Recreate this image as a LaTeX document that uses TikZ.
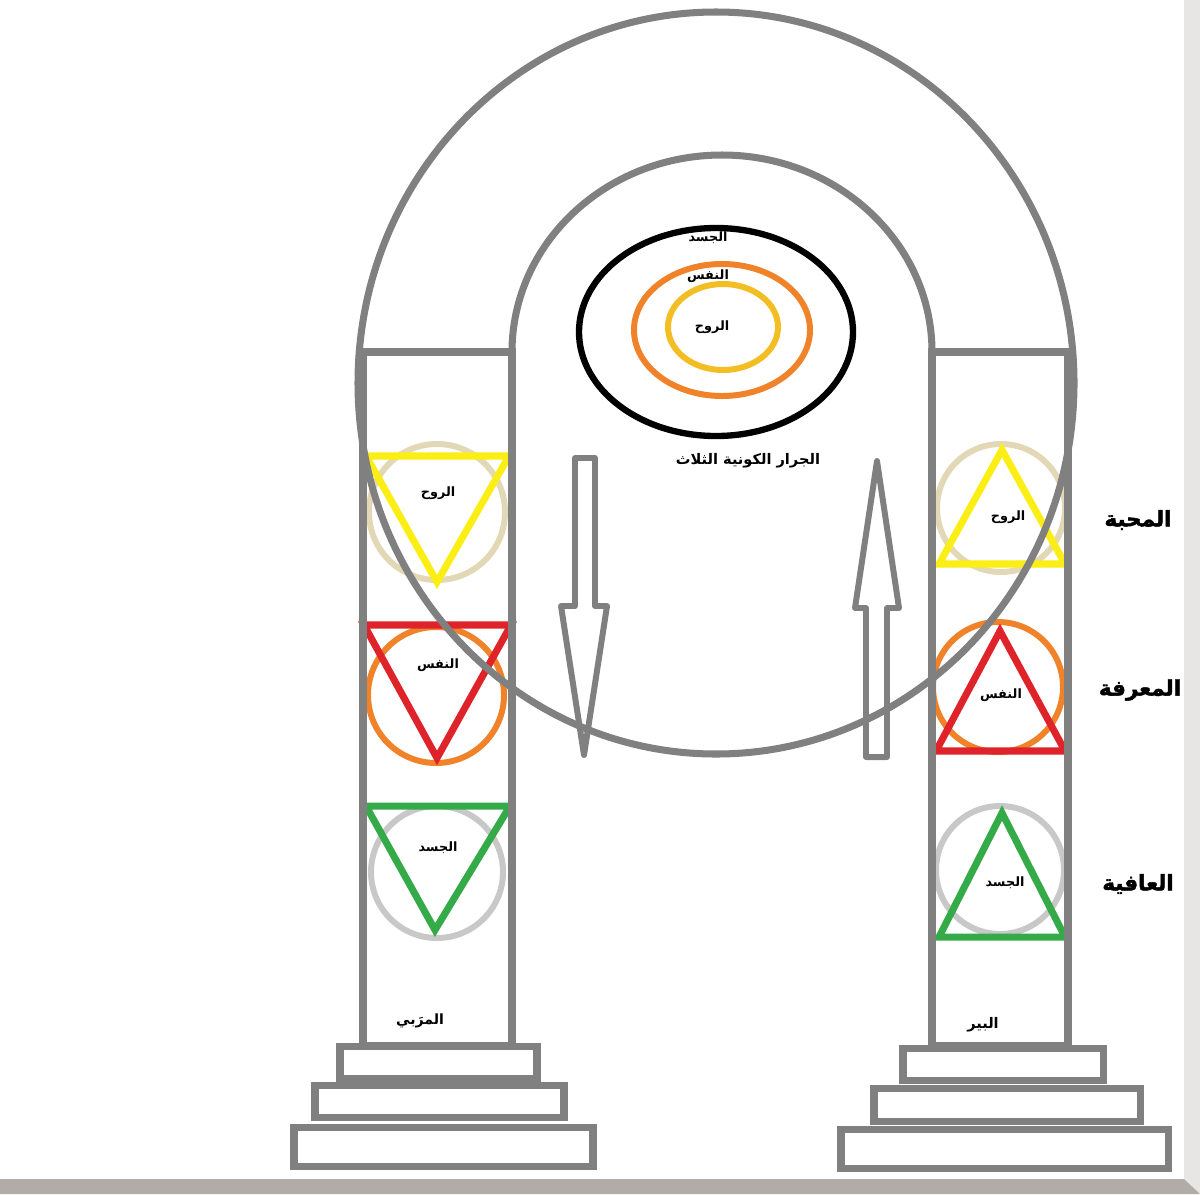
\documentclass[tikz,border=0pt]{standalone}
\usepackage{fontspec}
\newfontfamily\arabicfont[Script=Arabic]{DejaVu Sans}
\newfontfamily\arabicheavy[Script=Arabic,FakeBold=2]{DejaVu Sans Bold}
\TeXXeTstate=1

\definecolor{archgray}{RGB}{128,128,128}
\definecolor{edgegray}{RGB}{232,229,229}
\definecolor{floorgray}{RGB}{178,172,168}
\definecolor{ruhyellow}{RGB}{250,238,20}
\definecolor{ruhbeige}{RGB}{226,216,182}
\definecolor{nafsred}{RGB}{222,36,42}
\definecolor{nafsorange}{RGB}{240,130,42}
\definecolor{jasadgreen}{RGB}{52,170,72}
\definecolor{jasadgray}{RGB}{200,200,200}
\definecolor{coregold}{RGB}{242,190,36}

\newcommand{\artext}[1]{\beginR #1\endR}

\begin{document}
\begin{tikzpicture}[
  x=0.02cm, y=-0.02cm,
  every node/.style={font=\arabicfont\bfseries, inner sep=0pt},
  archline/.style={draw=archgray, line width=4pt},
  arrowline/.style={draw=archgray, line width=3.4pt, line join=round},
  ringline/.style={line width=3.4pt},
  triline/.style={line width=4pt, line join=miter},
  smalllabel/.style={font=\arabicfont\bfseries\fontsize{7.3}{8.5}\selectfont},
  sidelabel/.style={font=\arabicheavy\fontsize{12.2}{14}\selectfont}
]
\useasboundingbox (0,0) rectangle (1200,1194);
\fill[white] (0,0) rectangle (1200,1194);
\fill[edgegray] (1184,0) -- (1200,0) -- (1200,1194) -- (1184,1179) -- cycle;
\fill[floorgray] (0,1179) -- (1184,1179) -- (1200,1194) -- (0,1194) -- cycle;

% left column circles and triangles
\draw[ringline, ruhbeige] (437,512) circle [radius=68];
\draw[ringline, nafsorange] (436,695) circle [radius=68];
\draw[ringline, jasadgray] (437,872) circle [radius=66];
\draw[triline, ruhyellow] (366,456) -- (509,456) -- (437,582) -- cycle;
\draw[triline, nafsred] (364,625) -- (511,625) -- (437,758) -- cycle;
\draw[triline, jasadgreen] (366,806) -- (510,806) -- (435,930) -- cycle;

% right column circles and triangles
\draw[ringline, ruhbeige] (1001,508) circle [radius=64];
\draw[ringline, nafsorange] (998,687) circle [radius=65];
\draw[ringline, jasadgray] (1000,870) circle [radius=64];
\draw[triline, ruhyellow] (1002,450) -- (1065,564) -- (939,564) -- cycle;
\draw[triline, nafsred] (1000,631) -- (1065,751) -- (936,751) -- cycle;
\draw[triline, jasadgreen] (1002,813) -- (1065,937) -- (939,937) -- cycle;

% arch, columns and steps
\draw[archline] (716,383) ellipse [x radius=358, y radius=371];
\draw[archline] (512,352) arc [start angle=180, end angle=360, x radius=210, y radius=197];
\draw[archline] (363,352) rectangle (512,1045);
\draw[archline] (932,352) rectangle (1068,1045);
\draw[archline] (340,1046) rectangle (537,1078);
\draw[archline] (315,1085) rectangle (564,1117);
\draw[archline] (294,1127) rectangle (593,1166);
\draw[archline] (903,1048) rectangle (1103,1080);
\draw[archline] (874,1088) rectangle (1140,1121);
\draw[archline] (841,1129) rectangle (1168,1168);

% the three jars
\draw[line width=3.6pt, black] (716,332) ellipse [x radius=137, y radius=104];
\draw[ringline, nafsorange] (722,330) ellipse [x radius=88, y radius=66];
\draw[ringline, coregold] (723,327) ellipse [x radius=55, y radius=43];

% down and up arrows
\draw[arrowline] (575,458) -- (595,458) -- (595,606) -- (607,606) -- (584,755)
  -- (561,606) -- (575,606) -- cycle;
\draw[arrowline] (866,757) -- (887,757) -- (887,608) -- (899,608) -- (877,461)
  -- (855,608) -- (866,608) -- cycle;

% labels
\node[smalllabel] (jarJasad) at (708,238) {\artext{الجسد}};
\node[smalllabel] (jarNafs) at (708,276) {\artext{النفس}};
\node[smalllabel] (jarRuh) at (712,327) {\artext{الروح}};
\node[font=\arabicfont\bfseries\fontsize{8.3}{10}\selectfont] (jarTitle) at (748,461) {\artext{الجرار الكونية الثلاث}};

\node[smalllabel] (leftRuh) at (438,493) {\artext{الروح}};
\node[smalllabel] (leftNafs) at (438,665) {\artext{النفس}};
\node[smalllabel] (leftJasad) at (438,848) {\artext{الجسد}};
\node[smalllabel] (rightRuh) at (1008,517) {\artext{الروح}};
\node[smalllabel] (rightNafs) at (1001,695) {\artext{النفس}};
\node[smalllabel] (rightJasad) at (1005,883) {\artext{الجسد}};

\node[sidelabel] (mahabba) at (1138,520) {\artext{المحبة}};
\node[sidelabel] (maarifa) at (1140,690) {\artext{المعرفة}};
\node[sidelabel] (afiya) at (1138,884) {\artext{العافية}};

\node[font=\arabicfont\bfseries\fontsize{8}{9}\selectfont] (murabbi) at (420,1021) {\artext{المرَبي}};
\node[font=\arabicfont\bfseries\fontsize{8.3}{9}\selectfont] (bir) at (983,1025) {\artext{البير}};
\end{tikzpicture}
\end{document}
